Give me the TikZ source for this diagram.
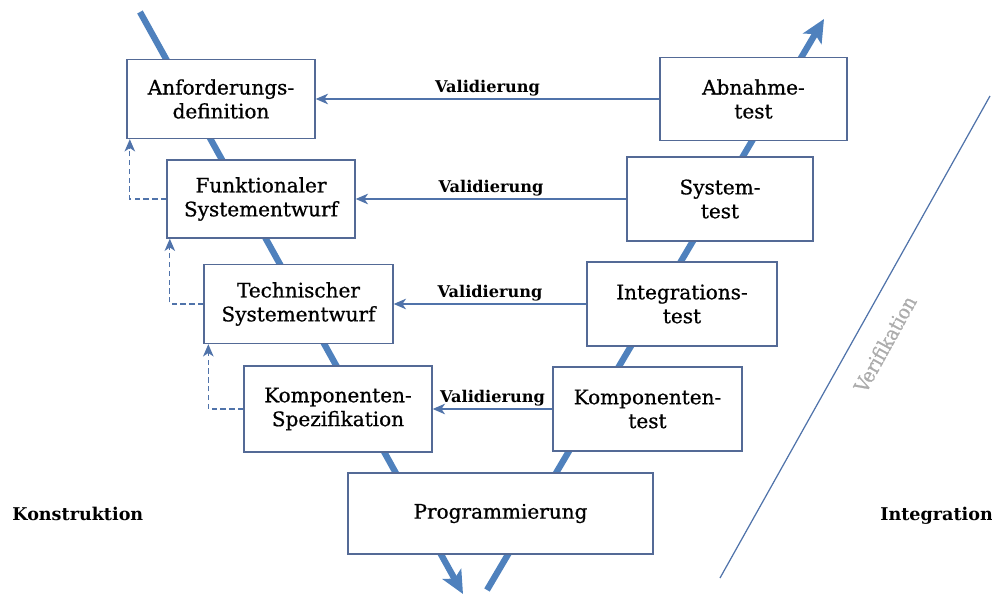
\documentclass[tikz,border=0pt]{standalone}
\usepackage{fontspec}
\setmainfont{DejaVu Serif}
\newfontfamily\boxfont{DejaVu Serif}[FakeBold=0.7]
\newfontfamily\verfont{DejaVu Serif Condensed}[FakeBold=0.8]
\usetikzlibrary{arrows.meta}
\definecolor{vblue}{RGB}{79,129,189}
\definecolor{boxline}{RGB}{84,106,150}
\definecolor{thinblue}{RGB}{80,115,170}
\begin{document}
\begin{tikzpicture}[x=0.02cm,y=-0.02cm,
  box/.style={draw=boxline, line width=0.8pt, fill=white, align=center, inner sep=0pt,
     font=\boxfont\fontsize{11.4}{13.6}\selectfont},
  thick arrow/.style={draw=vblue, line width=3.6pt, -{Stealth[length=13pt,width=12pt,inset=3pt]}},
  valarrow/.style={draw=thinblue, line width=0.8pt, -{Stealth[length=7pt,width=6pt,inset=2pt]}},
  vallabel/.style={font=\bfseries\fontsize{9.2}{10}\selectfont, inner sep=1pt, above},
  dasharrow/.style={draw=thinblue, line width=0.7pt, dashed, dash pattern=on 3pt off 2pt,
     -{Stealth[length=7pt,width=6pt,inset=2pt]}},
  side/.style={font=\bfseries\fontsize{10}{12}\selectfont, inner sep=0pt}]
\useasboundingbox (0,0) rectangle (992,601);
% V arms
\coordinate (l0) at (140,12);
\coordinate (l1) at (463,594);
\coordinate (r0) at (487,590);
\coordinate (r1) at (824,19);
\draw[thick arrow] (l0) -- (l1);
\draw[thick arrow] (r0) -- (r1);
% verification line
\coordinate (v0) at (720,578);
\coordinate (v1) at (990,96);
\draw[thinblue, line width=0.7pt] (v0) -- (v1);
\node[rotate=61, text=gray!65, font=\verfont\fontsize{11.5}{12}\selectfont] (verif) at (885,344) {Verifikation};
% boxes
\node[box, minimum width=3.76cm, minimum height=1.58cm] (anf) at (221,99) {Anforderungs-\\definition};
\node[box, minimum width=3.76cm, minimum height=1.56cm] (fun) at (261,199) {Funktionaler\\Systementwurf};
\node[box, minimum width=3.78cm, minimum height=1.58cm] (tec) at (298.5,304) {Technischer\\Systementwurf};
\node[box, minimum width=3.76cm, minimum height=1.72cm] (kom) at (338,409) {Komponenten-\\Spezifikation};
\node[box, minimum width=6.10cm, minimum height=1.62cm] (prog) at (500.5,513.5) {Programmierung};
\node[box, minimum width=3.78cm, minimum height=1.68cm] (kt) at (647.5,409) {Komponenten-\\test};
\node[box, minimum width=3.80cm, minimum height=1.68cm] (it) at (682,304) {Integrations-\\test};
\node[box, minimum width=3.72cm, minimum height=1.68cm] (st) at (720,199) {System-\\test};
\node[box, minimum width=3.74cm, minimum height=1.66cm] (ab) at (753.5,99) {Abnahme-\\test};
% validation arrows
\draw[valarrow] (ab.west) -- node[vallabel] {Validierung} (anf.east);
\draw[valarrow] (st.west) -- node[vallabel] {Validierung} (fun.east);
\draw[valarrow] (it.west) -- node[vallabel] {Validierung} (tec.east);
\draw[valarrow] (kt.west) -- node[vallabel] {Validierung} (kom.east);
% dashed feedback arrows
\draw[dasharrow] (fun.west) -| ([xshift=0.07cm]anf.south west);
\draw[dasharrow] (tec.west) -| ([xshift=0.07cm]fun.south west);
\draw[dasharrow] (kom.west) -| ([xshift=0.10cm]tec.south west);
% side labels
\node[side, anchor=west] (kon) at (12,514) {Konstruktion};
\node[side, anchor=west] (int) at (880,516) {Integration};
\end{tikzpicture}
\end{document}
